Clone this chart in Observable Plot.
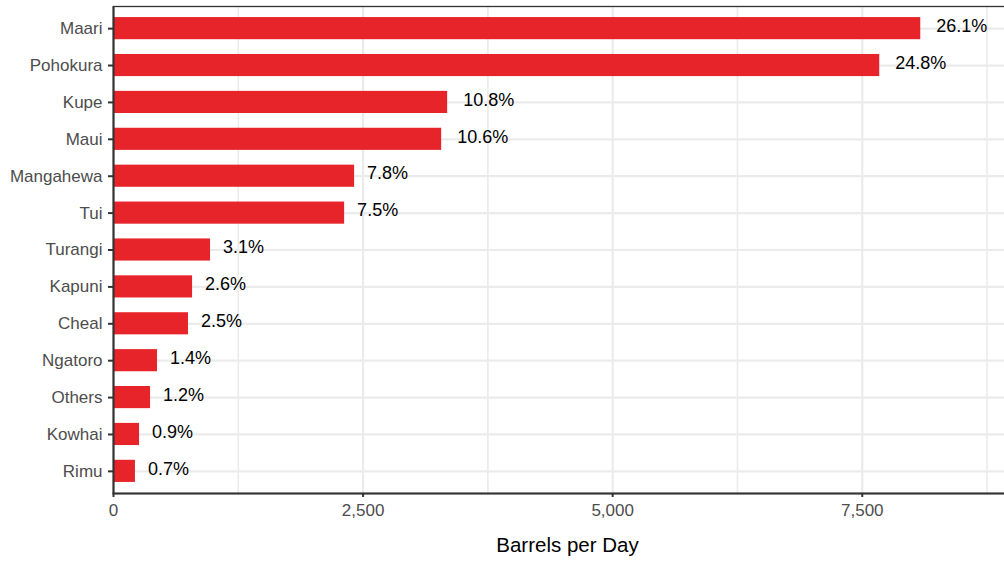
<!DOCTYPE html>
<html><head><meta charset="utf-8">
<script src="https://cdn.jsdelivr.net/npm/d3@7"></script>
<script src="https://cdn.jsdelivr.net/npm/@observablehq/plot@0.6"></script>
<style>
html,body{margin:0;padding:0;background:#fff;overflow:hidden;}
#chart{width:1004px;height:563px;overflow:hidden;}
</style></head><body><div id="chart"></div>
<script>
const fields = ["Maari","Pohokura","Kupe","Maui","Mangahewa","Tui","Turangi","Kapuni","Cheal","Ngatoro","Others","Kowhai","Rimu"];
const barrels = [8086, 7675, 3347, 3287, 2415, 2315, 972, 792, 751, 441, 371, 261, 220];
const shares = ["26.1%","24.8%","10.8%","10.6%","7.8%","7.5%","3.1%","2.6%","2.5%","1.4%","1.2%","0.9%","0.7%"];
const xTicks = [0, 2500, 5000, 7500];
const xMinorTicks = [1250, 3750, 6250, 8750];
const xLabel = "Barrels per Day";

const data = fields.map((f, i) => ({field: f, value: barrels[i], share: shares[i]}));
const wide = data.filter(d => d.share.length > 4);
const narrow = data.filter(d => d.share.length <= 4);

const chart = Plot.plot({
  width: 1022, height: 563,
  marginLeft: 113, marginRight: 1, marginTop: 6, marginBottom: 70,
  style: {fontFamily: "'Liberation Sans', Arial, sans-serif", maxWidth: "none", background: "#fff"},
  x: {domain: [0, 9095], label: null},
  y: {type: "band", domain: fields, paddingInner: 0.4, paddingOuter: 0.3, round: false, label: null},
  marks: [
    Plot.ruleX(xMinorTicks, {stroke: "#ebebeb", strokeWidth: 1.6}),
    Plot.ruleX(xTicks, {stroke: "#ebebeb", strokeWidth: 2.2}),
    Plot.gridY({stroke: "#ebebeb", strokeOpacity: 1, strokeWidth: 2.2}),
    Plot.barX(data, {x: "value", y: "field", fill: "#e8242b"}),
    Plot.text(wide, {x: "value", y: "field", text: "share", textAnchor: "start", dx: 15.5, dy: -2.5, fontSize: 18, fill: "#000"}),
    Plot.text(narrow, {x: "value", y: "field", text: "share", textAnchor: "start", dx: 12.5, dy: -2.5, fontSize: 18, fill: "#000"}),
    Plot.frame({stroke: "#333", strokeWidth: 1.3}),
    Plot.ruleX([0], {stroke: "#333", strokeWidth: 2}),
    Plot.frame({anchor: "bottom", stroke: "#333", strokeWidth: 2}),
    Plot.axisY({tickSize: 5, tickPadding: 6, fontSize: 17, fill: "#4d4d4d", stroke: "#333", strokeWidth: 2, label: null}),
    Plot.axisX({ticks: xTicks, tickFormat: d3.format(","), tickSize: 4, tickPadding: 6, fontSize: 17, fill: "#4d4d4d", stroke: "#333", strokeWidth: 2, label: null}),
    Plot.text([xLabel], {text: d => d, frameAnchor: "bottom", dy: 58.5, fontSize: 20.5, fill: "#000"})
  ]
});
document.getElementById("chart").appendChild(chart);
</script></body></html>
